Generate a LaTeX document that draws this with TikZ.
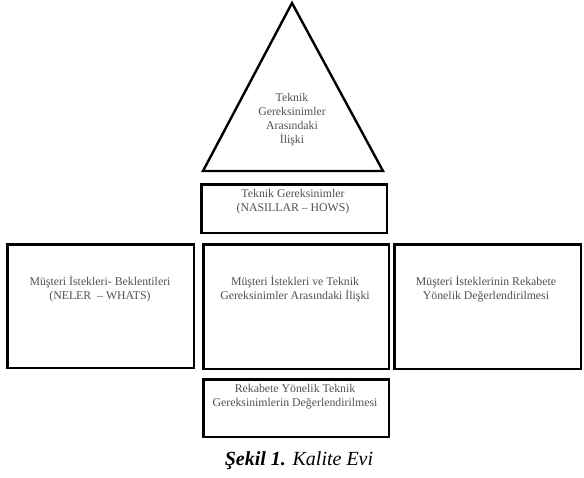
\documentclass[tikz,border=0pt]{standalone}
\usepackage{fontspec}
\setmainfont{Liberation Serif}
\definecolor{txtgray}{HTML}{505050}
\tikzset{
  housebox/.style={draw=black, line width=2.4pt, inner sep=0pt, anchor=north west},
  housetxt/.style={text=txtgray, font=\fontsize{11.8}{14}\selectfont, align=center, inner sep=0pt},
}
\begin{document}
\begin{tikzpicture}[x=1pt,y=-1pt]
\useasboundingbox (0,0) rectangle (584,478);
% roof triangle
\coordinate (apex) at (292,3);
\coordinate (bl) at (203,171);
\coordinate (br) at (383,171);
\draw[line width=2.4pt, line join=miter] (apex) -- (bl) -- (br) -- cycle;
\node[housetxt] (roof) at (292,119.5) {Teknik\\Gereksinimler\\Arasındaki\\İlişki};
% boxes
\node[housebox, minimum width=185.6pt, minimum height=48.6pt] (hows) at (200.2,183.2) {};
\node[housebox, minimum width=186.6pt, minimum height=123.6pt] (whats) at (6.2,243.2) {};
\node[housebox, minimum width=185.6pt, minimum height=124.6pt] (rel) at (202.2,243.2) {};
\node[housebox, minimum width=186.6pt, minimum height=124.6pt] (comp) at (393.2,243.2) {};
\node[housebox, minimum width=185.6pt, minimum height=57.6pt] (tcomp) at (202.2,378.2) {};
% texts
\node[housetxt] (howst) at (293,202) {Teknik Gereksinimler\\(NASILLAR -- HOWS)};
\node[housetxt] (whatst) at (100,288.5) {Müşteri İstekleri- Beklentileri\\(NELER~ -- WHATS)};
\node[housetxt] (relt) at (295,288.5) {Müşteri İstekleri ve Teknik\\Gereksinimler Arasındaki İlişki};
\node[housetxt] (compt) at (486,288.5) {Müşteri İsteklerinin Rekabete\\Yönelik Değerlendirilmesi};
\node[housetxt] (tcompt) at (295,397) {Rekabete Yönelik Teknik\\Gereksinimlerin Değerlendirilmesi};
% caption
\node[font=\fontsize{20}{24}\selectfont\itshape, inner sep=0pt] (cap) at (299,461) {\textbf{Şekil 1.} Kalite Evi};
\end{tikzpicture}
\end{document}
